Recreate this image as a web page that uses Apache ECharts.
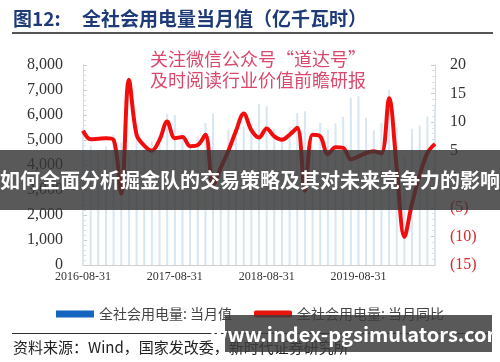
<!DOCTYPE html>
<html>
<head>
<meta charset="utf-8">
<script src="https://cdn.jsdelivr.net/npm/echarts@6/dist/echarts.min.js"></script>
<style>
html,body{margin:0;padding:0;background:#fff;}
#chart{width:500px;height:362px;}
</style>
</head>
<body>
<div id="chart"></div>
<script>
// Months (category axis)
var months = [
 '2016-08-31','2016-09-30','2016-10-31','2016-11-30','2016-12-31',
 '2017-01-31','2017-02-28','2017-03-31','2017-04-30','2017-05-31','2017-06-30','2017-07-31','2017-08-31','2017-09-30','2017-10-31','2017-11-30','2017-12-31',
 '2018-01-31','2018-02-28','2018-03-31','2018-04-30','2018-05-31','2018-06-30','2018-07-31','2018-08-31','2018-09-30','2018-10-31','2018-11-30','2018-12-31',
 '2019-01-31','2019-02-28','2019-03-31','2019-04-30','2019-05-31','2019-06-30','2019-07-31','2019-08-31','2019-09-30','2019-10-31','2019-11-30','2019-12-31',
 '2020-01-31','2020-02-29','2020-03-31','2020-04-30','2020-05-31','2020-06-30'
];
// 全社会用电量: 当月值 (亿千瓦时)
var monthlyValue = [
 5470,4790,4500,4740,5210,
 4900,4450,5060,4650,4950,5150,6050,6000,5050,4810,5140,5680,
 6050,4500,5420,5170,5530,5640,6450,6350,5450,5110,5510,6080,
 6150,4630,5680,5420,5670,5930,6680,6750,5900,5400,5670,7000,
 5500,4400,5450,5580,5940,6350
];
// 全社会用电量: 当月同比 (%)
var yoyValue = [
 8.5,7.0,7.1,7.2,6.9,
 -2.5,17.4,7.8,5.9,5.0,6.9,10.1,7.2,7.4,5.8,6.0,7.8,
 -1.0,2.0,5.0,8.5,11.5,8.6,7.3,8.9,7.5,6.9,7.8,9.0,
 -2.0,7.8,7.5,4.4,5.6,5.5,3.5,4.0,4.6,4.9,4.5,14.2,
 2.0,-10.1,-4.2,0.7,4.6,6.2
];
var leftTicks = {min:0, max:8000, interval:1000};
var rightTicks = {min:-15, max:20, interval:5};
var seriesNames = ['全社会用电量: 当月值','全社会用电量: 当月同比'];

var chart = echarts.init(document.getElementById('chart'));
var serif = "'Liberation Serif','Times New Roman',serif";
var cjk = "'Noto Sans CJK SC',sans-serif";
chart.setOption({
  animation:false,
  backgroundColor:'#fff',
  grid:{left:83, right:65, top:65, bottom:97, containLabel:false},
  legend:{
    top:302, left:'center', itemWidth:38, itemHeight:7, itemGap:22,
    textStyle:{fontFamily:cjk, fontSize:14, color:'#444'},
    data:[
      {name:seriesNames[0], icon:'rect', itemStyle:{color:'#1565c0'}},
      {name:seriesNames[1], icon:'roundRect', itemStyle:{color:'#e8140e'}}
    ]
  },
  xAxis:{
    type:'category', data:months, boundaryGap:false,
    axisLine:{lineStyle:{color:'#d0d0d0', width:1}},
    axisTick:{show:false},
    axisLabel:{interval:11, fontFamily:serif, fontSize:12, color:'#333', margin:6},
    splitLine:{show:false}
  },
  yAxis:[
    {type:'value', min:leftTicks.min, max:leftTicks.max, interval:leftTicks.interval, position:'left',
     axisLine:{show:true, lineStyle:{color:'#d8d8d8'}},
     axisTick:{show:true, inside:true, length:4, lineStyle:{color:'#cccccc'}},
     minorTick:{show:true, splitNumber:5, length:3, lineStyle:{color:'#dddddd'}},
     splitLine:{show:false},
     axisLabel:{fontFamily:serif, fontSize:16, color:'#333', margin:20,
       formatter:function(v){return v.toLocaleString('en-US');}}
    },
    {type:'value', min:rightTicks.min, max:rightTicks.max, interval:rightTicks.interval, position:'right',
     axisLine:{show:true, lineStyle:{color:'#d8d8d8'}},
     axisTick:{show:true, inside:true, length:4, lineStyle:{color:'#cccccc'}},
     minorTick:{show:true, splitNumber:5, length:3, lineStyle:{color:'#dddddd'}},
     splitLine:{show:false},
     axisLabel:{fontFamily:serif, fontSize:16, color:'#333', margin:15,
       formatter:function(v){ return v<0 ? '{neg|('+(-v)+')}' : String(v); },
       rich:{neg:{color:'#d42a2a', fontFamily:serif, fontSize:16}}}
    }
  ],
  series:[
    {name:seriesNames[0], type:'bar', yAxisIndex:0, data:monthlyValue, barWidth:2,
     itemStyle:{color:'#d6e6f3'}},
    {name:seriesNames[1], type:'line', yAxisIndex:1, data:yoyValue, smooth:0.35,
     symbol:'none', lineStyle:{color:'#f20d0d', width:4}, itemStyle:{color:'#f20d0d'}, z:3}
  ],
  graphic:[
    {type:'text', left:13, top:9, z:10, style:{text:'图12:', font:"bold 19px "+cjk, fill:'#1e3a78'}},
    {type:'text', left:82, top:9, z:10, style:{text:'全社会用电量当月值（亿千瓦时）', font:"bold 19px "+cjk, fill:'#1e3a78'}},
    {type:'rect', z:10, shape:{x:12, y:32, width:481, height:2}, style:{fill:'#555'}},
    {type:'text', left:150, top:50, z:10, style:{text:'关注微信公众号“道达号”', font:"18px "+cjk, fill:'#d9486c'}},
    {type:'text', left:150, top:71, z:10, style:{text:'及时阅读行业价值前瞻研报', font:"18px "+cjk, fill:'#d9486c'}},
    {type:'rect', z:20, shape:{x:0, y:150, width:500, height:60}, style:{fill:'rgba(52,52,52,0.82)'}},
    {type:'text', x:250, y:180, z:21, style:{text:'如何全面分析掘金队的交易策略及其对未来竞争力的影响', font:"bold 20px "+cjk, fill:'#fff', align:'center', verticalAlign:'middle'}},
    {type:'rect', z:10, shape:{x:12, y:333, width:481, height:1}, style:{fill:'#333'}},
    {type:'text', left:13, top:340, z:10, style:{text:'资料来源：Wind，国家发改委，新时代证券研究所', font:"15px "+cjk, fill:'#222'}},
    {type:'rect', z:20, shape:{x:225, y:315, width:267, height:37}, style:{fill:'rgba(60,60,60,0.85)'}},
    {type:'text', x:358, y:334, z:21, style:{text:'www.index-pgsimulators.com', font:"bold 20px "+cjk, fill:'#fff', align:'center', verticalAlign:'middle'}}
  ]
});
</script>
</body>
</html>
